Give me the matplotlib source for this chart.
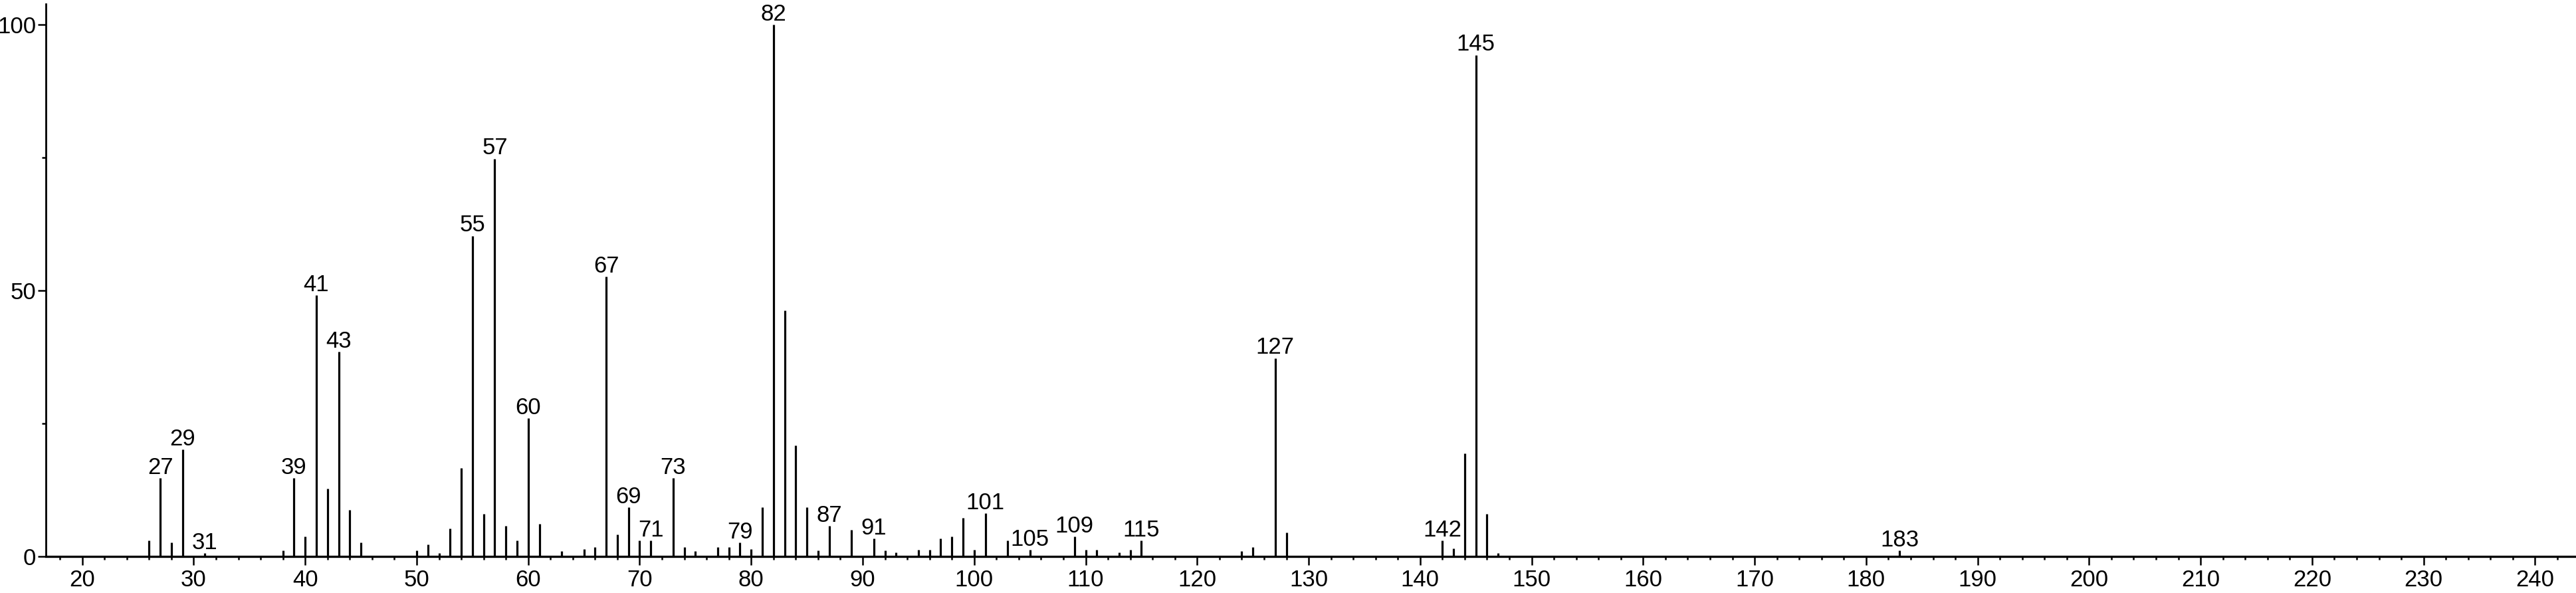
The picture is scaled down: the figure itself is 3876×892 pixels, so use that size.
import numpy as np
import matplotlib.pyplot as plt

plt.rcParams['font.family'] = ['Liberation Sans', 'DejaVu Sans']

# --- espectro de massas: m/z e intensidade relativa ---
mz = [26, 27, 28, 29, 31, 38, 39, 40, 41, 42, 43, 44, 45,
      50, 51, 52, 53, 54, 55, 56, 57, 58, 59, 60, 61, 63, 65, 66, 67, 68, 69,
      70, 71, 73, 74, 75, 77, 78, 79, 80, 81, 82, 83, 84, 85, 86, 87, 89,
      91, 92, 93, 95, 96, 97, 98, 99, 100, 101, 103, 105, 109, 110, 111,
      113, 114, 115, 124, 125, 127, 128, 142, 143, 144, 145, 146, 147, 183]
intensidade = [3.0, 14.7, 2.6, 20.1, 0.6, 1.1, 14.7, 3.8, 49.1, 12.8, 38.5, 8.8, 2.6,
               1.1, 2.2, 0.6, 5.3, 16.6, 60.3, 8.0, 74.8, 5.7, 3.0, 26.0, 6.1, 1.0, 1.4, 1.8, 52.6, 4.1, 9.2,
               3.0, 3.0, 14.7, 1.8, 1.0, 1.8, 1.8, 2.6, 1.4, 9.2, 100.0, 46.3, 20.9, 9.2, 1.1, 5.7, 5.0,
               3.4, 1.1, 0.7, 1.2, 1.2, 3.4, 3.7, 7.3, 1.2, 8.1, 3.0, 1.2, 3.7, 1.2, 1.2,
               0.7, 1.2, 3.0, 1.0, 1.8, 37.3, 4.5, 3.0, 1.5, 19.4, 94.3, 8.0, 0.6, 1.1]

# picos com rotulo
picos_rotulados = [27, 29, 31, 39, 41, 43, 55, 57, 60, 67, 69, 71, 73, 79, 82,
                   87, 91, 101, 105, 109, 115, 127, 142, 145, 183]

x_ticks = np.arange(20, 241, 10)
y_ticks = [0, 50, 100]

fig = plt.figure(figsize=(38.76, 8.92), dpi=100)
ax = fig.add_axes([69 / 3876, 55 / 892, (3876 - 69) / 3876, (837 - 5.7) / 892])

ax.vlines(mz, 0, intensidade, color='black', linewidth=2.3)

tabela = dict(zip(mz, intensidade))
for p in picos_rotulados:
    ax.annotate(str(p), (p, tabela[p]), xytext=(0, 4.5), textcoords='offset points',
                ha='center', va='baseline', fontsize=25, color='black')

ax.set_xlim(16.74, 243.67)
ax.set_ylim(0, 103.9)

ax.set_xticks(x_ticks)
ax.set_xticks(np.arange(18, 244, 2), minor=True)
ax.set_yticks(y_ticks)
ax.set_yticks([25, 75], minor=True)

ax.tick_params(axis='both', which='major', direction='out', length=9, width=1.8,
               labelsize=25, color='black')
ax.tick_params(axis='x', which='major', pad=5)
ax.tick_params(axis='y', which='major', pad=1.5)
ax.tick_params(axis='x', which='minor', direction='out', length=3.6, width=1.8)
ax.tick_params(axis='y', which='minor', direction='out', length=4.3, width=1.8)

ax.spines['top'].set_visible(False)
ax.spines['right'].set_visible(False)
ax.spines['bottom'].set_linewidth(2.4)
ax.spines['left'].set_linewidth(2.0)

fig.savefig('out.png', dpi=100, facecolor='white')
